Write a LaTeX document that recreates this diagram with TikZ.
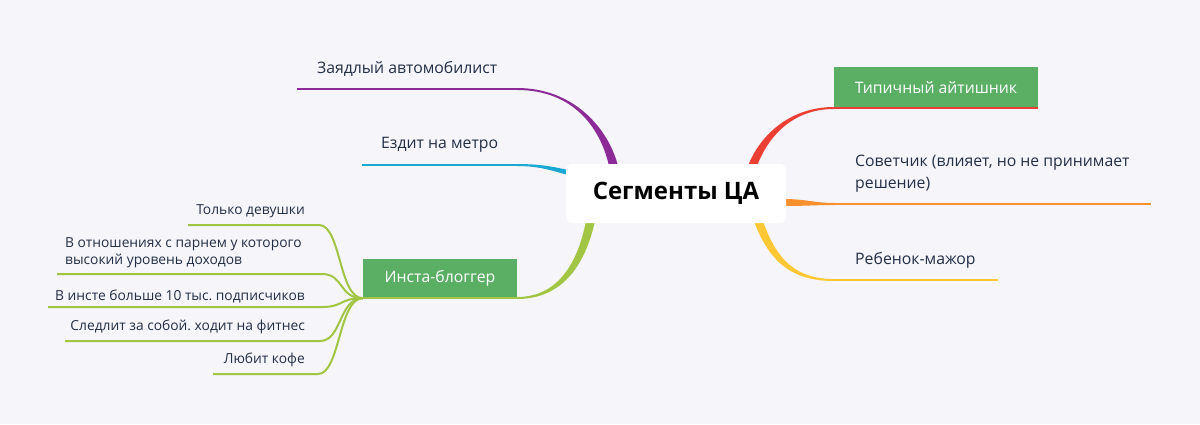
\documentclass[tikz,border=0pt]{standalone}
\usepackage{fontspec}
\setmainfont{Open Sans}
\usetikzlibrary{calc}
\definecolor{bg}{HTML}{F5F5FA}
\definecolor{txt}{HTML}{232F45}
\definecolor{boxgreen}{HTML}{5BAF65}
\definecolor{cpurple}{HTML}{8C2A97}
\definecolor{ccyan}{HTML}{1AA8D4}
\definecolor{cgreen}{HTML}{A2C644}
\definecolor{cred}{HTML}{EC3F33}
\definecolor{corange}{HTML}{F7902D}
\definecolor{cyellow}{HTML}{FDC834}
\begin{document}
\frenchspacing
\begin{tikzpicture}[x=1pt,y=-1pt,
  topic/.style={font=\fontsize{15.8}{22}\selectfont, text=txt, inner sep=0pt},
  small/.style={font=\fontsize{13.8}{17.5}\selectfont, text=txt, inner sep=0pt},
  gbox/.style={fill=boxgreen, text=white, font=\fontsize{15.8}{20}\selectfont, inner sep=0pt},
  uline/.style={line width=2pt},
  sub/.style={draw=cgreen, line width=2pt}]
\fill[bg] (0,0) rectangle (1200,424);
\useasboundingbox (0,0) rectangle (1200,424);

% main branches (tapered)
\fill[cpurple] (517,88) .. controls (575,88) and (609,130) .. (618,166) -- (609,166) .. controls (601,130) and (575,90) .. (517,90) -- cycle;
\fill[ccyan] (517,164) .. controls (540,164) and (555,167) .. (568,170) -- (568,175) .. controls (553,171) and (540,166) .. (517,166) -- cycle;
\fill[cgreen] (595,221) .. controls (583,275) and (555,299) .. (517,299) -- (517,297) .. controls (552,297) and (576,272) .. (586,221) -- cycle;
\fill[cred] (834,107) .. controls (790,107) and (760,135) .. (748,166) -- (757,166) .. controls (768,137) and (792,109) .. (834,109) -- cycle;
\fill[corange] (784,199) .. controls (805,199) and (815,203) .. (834,203) -- (834,205) .. controls (815,205) and (805,206) .. (784,206) -- cycle;
\fill[cyellow] (754,221) .. controls (770,265) and (795,281) .. (834,281) -- (834,279) .. controls (798,279) and (777,262) .. (763,221) -- cycle;

% root
\node[fill=white, rounded corners=6pt, minimum width=220pt, minimum height=59pt, inner sep=0pt,
      font=\bfseries\fontsize{24}{30}\selectfont, text=black] (root) at (676,193.5) {Сегменты ЦА};

% left topics
\node[topic, anchor=west] (zayad) at (317,69) {Заядлый автомобилист};
\coordinate (zayadL) at (297,89);
\coordinate (zayadR) at (517,89);
\draw[uline, cpurple] (zayadL) -- (zayadR);

\node[topic, anchor=west] (metro) at (381,145) {Ездит на метро};
\coordinate (metroL) at (362,165);
\coordinate (metroR) at (517,165);
\draw[uline, ccyan] (metroL) -- (metroR);

\node[gbox, minimum width=154pt, minimum height=39pt] (insta) at (440,278.5) {Инста-блоггер};
\draw[uline, cgreen] (insta.south west) -- (insta.south east);
\coordinate (hub) at (insta.south west);

% right topics
\node[gbox, minimum width=204pt, minimum height=41pt] (it) at (936,87.5) {Типичный айтишник};
\draw[uline, cred] (it.south west) -- (it.south east);

\node[topic, anchor=west, align=left] (sovet) at (855,174) {Советчик (влияет, но не принимает\\решение)};
\coordinate (sovetL) at (834,204);
\coordinate (sovetR) at (1151,204);
\draw[uline, corange] (sovetL) -- (sovetR);

\node[topic, anchor=west] (major) at (855,260) {Ребенок-мажор};
\coordinate (majorL) at (834,280);
\coordinate (majorR) at (998,280);
\draw[uline, cyellow] (majorL) -- (majorR);

% insta children
\node[small, anchor=east] (c1) at (305,211) {Только девушки};
\coordinate (c1L) at (188,225);
\coordinate (c1R) at (319,225);
\node[small, anchor=west, align=left] (c2) at (65,252.5) {В отношениях с парнем у которого\\высокий уровень доходов};
\coordinate (c2L) at (57,274);
\coordinate (c2R) at (322,274);
\node[small, anchor=east] (c3) at (305,296) {В инсте больше 10 тыс. подписчиков};
\coordinate (c3L) at (48,307);
\coordinate (c3R) at (322,307);
\node[small, anchor=east] (c4) at (305,327) {Следлит за собой. ходит на фитнес};
\coordinate (c4L) at (65,341);
\coordinate (c4R) at (320,341);
\node[small, anchor=east] (c5) at (305,360) {Любит кофе};
\coordinate (c5L) at (213,374);
\coordinate (c5R) at (318,374);

\foreach \c in {c1,c2,c3,c4,c5}{
  \draw[sub] (\c L) -- (\c R) .. controls +(22,0) and +(-24,0) .. (hub);
}
\end{tikzpicture}
\end{document}
